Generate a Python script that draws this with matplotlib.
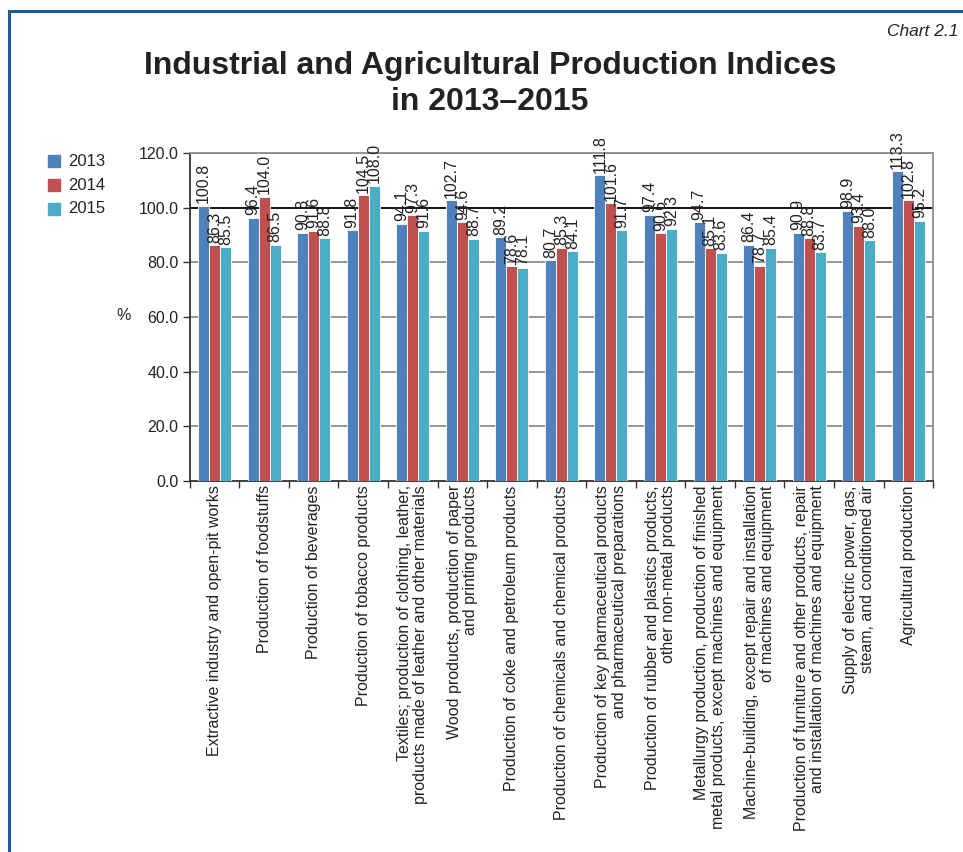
import numpy as np
import matplotlib
matplotlib.use("Agg")
import matplotlib.pyplot as plt
from matplotlib.lines import Line2D

plt.rcParams['font.family'] = ['Liberation Sans', 'DejaVu Sans']

categories = [
    "Extractive industry and open-pit works",
    "Production of foodstuffs",
    "Production of beverages",
    "Production of tobacco products",
    "Textiles; production of clothing, leather,\nproducts made of leather and other materials",
    "Wood products, production of paper\nand printing products",
    "Production of coke and petroleum products",
    "Production of chemicals and chemical products",
    "Production of key pharmaceutical products\nand pharmaceutical preparations",
    "Production of rubber and plastics products,\nother non-metal products",
    "Metallurgy production, production of finished\nmetal products, except machines and equipment",
    "Machine-building, except repair and installation\nof machines and equipment",
    "Production of furniture and other products, repair\nand installation of machines and equipment",
    "Supply of electric power, gas,\nsteam, and conditioned air",
    "Agricultural production",
]
years = ["2013", "2014", "2015"]
v2013 = [100.8, 96.4, 90.8, 91.8, 94.1, 102.7, 89.2, 80.7, 111.8, 97.4, 94.7, 86.4, 90.9, 98.9, 113.3]
v2014 = [86.3, 104.0, 91.6, 104.5, 97.3, 94.6, 78.6, 85.3, 101.6, 90.6, 85.1, 78.7, 88.8, 93.4, 102.8]
v2015 = [85.5, 86.5, 88.8, 108.0, 91.6, 88.7, 78.1, 84.1, 91.7, 92.3, 83.6, 85.4, 83.7, 88.0, 95.2]
colors = ["#4F81BD", "#C0504D", "#4BACC6"]

fig = plt.figure(figsize=(9.63, 8.52), dpi=100)
ax = fig.add_axes([0.197, 0.4354, 0.772, 0.385])

x = np.arange(len(categories))
w = 0.222
for i, (vals, c) in enumerate(zip([v2013, v2014, v2015], colors)):
    xs = x + (i - 1) * w
    ax.bar(xs, vals, width=w, color=c, edgecolor="white", linewidth=0.6, zorder=3)
    for xi, v in zip(xs, vals):
        ax.text(xi, v + 0.9, f"{v:.1f}", rotation=90, ha="center", va="bottom",
                fontsize=11.5, color="#222222", zorder=4)

ax.set_xlim(-0.5, len(categories) - 0.5)
ax.set_ylim(0, 120)
ax.set_yticks(np.arange(0, 121, 20))
ax.set_yticklabels([f"{t:.1f}" for t in np.arange(0, 121, 20)], fontsize=11.5, color="#222222")
for t in range(20, 121, 20):
    ax.axhline(t, color="black" if t == 100 else "#8c8c8c", lw=1.3, zorder=1)

ax.set_xticks(np.arange(-0.5, len(categories), 1.0))
ax.set_xticklabels([])
ax.tick_params(axis="x", length=5, width=1, color="#333333", direction="out")
ax.tick_params(axis="y", length=5, width=1, color="#333333", direction="out", pad=3)
for xi, lab in zip(x, categories):
    ax.text(xi, -1.5, lab, rotation=90, ha="center", va="top", multialignment="right",
            fontsize=11.5, color="#222222", linespacing=1.12, transform=ax.transData)

ax.spines["left"].set_color("#333333")
ax.spines["bottom"].set_color("#333333")
ax.spines["top"].set_color("#8c8c8c")
ax.spines["right"].set_color("#8c8c8c")
for s in ax.spines.values():
    s.set_linewidth(1.3)

fig.text(0.128, 1 - 315 / 852, "%", fontsize=11.5, ha="center", va="center", color="#222222")

# legend
for i, (yr, c) in enumerate(zip(years, colors)):
    yy = 1 - (161 + i * 24) / 852
    fig.patches.append(plt.Rectangle((48 / 963, yy - 6 / 852), 12 / 963, 12 / 852,
                                     transform=fig.transFigure, color=c))
    fig.text(68 / 963, yy, yr, fontsize=12, va="center", ha="left", color="#222222")

fig.text(0.509, 1 - 84 / 852, "Industrial and Agricultural Production Indices\nin 2013\u20132015",
         fontsize=23, fontweight="bold", ha="center", va="center", linespacing=1.22, color="#222222")
fig.text(0.995, 1 - 31 / 852, "Chart 2.1", fontsize=12.5, style="italic", ha="right", va="center",
         color="#222222")

# frame lines
fig.add_artist(Line2D([9 / 963, 1], [1 - 11 / 852] * 2, transform=fig.transFigure,
                      color="#1F5A96", lw=2.2))
fig.add_artist(Line2D([9 / 963] * 2, [0, 1 - 11 / 852], transform=fig.transFigure,
                      color="#1F5A96", lw=2.2))

fig.savefig("out.png", dpi=100)
